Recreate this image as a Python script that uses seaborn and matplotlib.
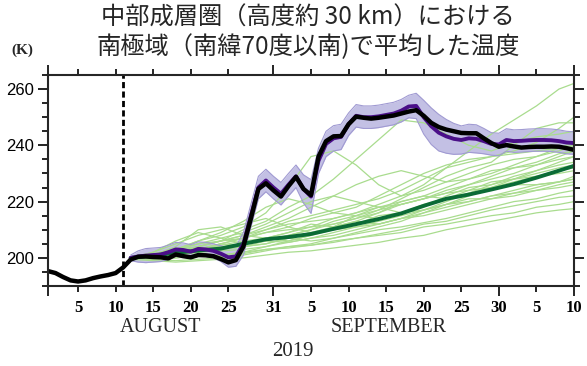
import numpy as np
import pandas as pd
import matplotlib
matplotlib.use("Agg")
import matplotlib.pyplot as plt
import matplotlib.transforms as mtransforms
import seaborn as sns

# days since 1 August 2019
obs_days = list(range(0, 71))
obs_temp = [195.3, 194.6, 193.2, 192.0, 191.6, 192.0, 192.8, 193.4, 193.9, 194.6,
            196.6, 199.4, 200.4, 200.5, 200.3, 200.2, 199.8, 201.2, 200.6, 200.2,
            201.0, 200.9, 200.6, 199.6, 198.4, 199.2, 204.0, 214.0, 224.5, 226.5,
            224.0, 221.8, 225.5, 228.8, 224.5, 222.3, 236.0, 241.5, 243.2, 243.3,
            247.5, 250.2, 249.8, 249.5, 249.8, 250.2, 250.6, 251.3, 252.0, 252.5,
            250.5, 248.0, 246.5, 245.6, 245.0, 244.4, 244.3, 244.3, 242.5, 240.8,
            239.5, 240.1, 239.6, 239.2, 239.4, 239.5, 239.5, 239.6, 239.5, 239.0,
            238.4]

purple_days = list(range(11, 71))
purple_mean = [200.0, 200.5, 200.8, 201.0, 201.2, 202.0, 203.0, 202.8, 202.2, 203.2,
               203.0, 202.5, 201.5, 200.2, 200.5, 205.0, 215.0, 225.0, 227.5, 225.0,
               222.8, 226.0, 229.0, 224.5, 221.8, 234.5, 240.5, 242.5, 243.0, 247.5,
               250.5, 250.0, 250.0, 250.3, 250.8, 251.3, 252.3, 253.8, 254.0, 250.0,
               246.8, 244.5, 243.2, 242.3, 241.9, 242.5, 242.3, 241.5, 240.5, 240.3,
               241.9, 241.5, 241.6, 241.8, 241.9, 241.9, 241.8, 241.5, 241.0, 240.8]
purple_spread = [1.0, 2.0, 2.5, 2.5, 2.5, 2.5, 2.5, 2.5, 2.5, 2.5,
                 2.5, 2.5, 2.8, 3.5, 3.5, 4.0, 4.0, 4.0, 4.0, 4.0,
                 4.0, 4.0, 4.0, 5.0, 6.0, 4.5, 4.5, 4.5, 4.5, 4.0,
                 4.0, 4.0, 4.0, 4.0, 4.0, 4.0, 4.0, 4.0, 4.5, 6.0,
                 6.5, 6.5, 6.0, 5.5, 5.0, 5.0, 5.0, 4.5, 4.0, 4.0,
                 4.0, 4.0, 4.0, 4.0, 4.0, 4.0, 4.0, 4.0, 4.0, 4.0]

green_days = [11, 14, 17, 20, 23, 26, 29, 32, 35, 38, 41, 44, 47, 50, 53, 56, 59, 62, 65, 68, 70]
green_mean = [200.0, 200.8, 201.8, 202.6, 203.3, 205.0, 206.6, 207.4, 208.5, 210.3, 212.0,
              213.8, 215.8, 218.5, 221.0, 222.5, 224.3, 226.2, 228.5, 231.0, 232.7]

green_01 = [199.5, 199, 198.5, 199, 199.5, 200, 201, 202, 202.5, 203.5, 204.5, 205.5, 207, 208, 210, 211.5, 213, 214.5, 216, 217, 217.5]
green_02 = [200, 199.5, 200, 201, 200.5, 201.5, 203, 204, 204.5, 206, 207, 208.5, 210, 212, 213, 215, 217, 218.5, 220, 221.5, 222]
green_03 = [200, 201, 202, 203.5, 204, 205, 206, 205.5, 207, 209, 211, 212, 214, 216, 219, 220, 222, 224, 226, 227, 229]
green_04 = [200, 202, 205, 208, 210, 212, 214, 211, 209, 210, 212, 215, 216, 218, 222, 225, 226, 228, 230, 232, 233]
green_05 = [200, 201, 203, 206, 208, 211, 216, 225, 236, 238, 233, 226, 222, 224, 227, 230, 233, 235, 236, 238, 240]
green_06 = [200, 201, 202, 204, 206, 210, 213, 218, 222, 228, 235, 242, 249, 248, 244, 240, 238, 241, 243, 244, 245]
green_07 = [200, 200.5, 201, 202, 203, 205, 207, 209, 211, 214, 216, 219, 222, 226, 232, 238, 244, 249, 254, 260, 262]
green_08 = [200, 201.5, 203, 204, 206, 208, 210, 213, 215, 217, 219, 221, 224, 228, 232, 234, 236, 238, 241, 246, 250]
green_09 = [200, 200, 201, 202, 202.5, 203, 204, 205.5, 207, 208, 210, 212, 214, 215, 217, 219, 221, 223, 225, 227, 228]
green_10 = [200, 201, 202.5, 203, 205, 207, 209, 211, 214, 216, 218, 222, 226, 230, 233, 235, 236, 237, 238, 239, 240]
green_11 = [200, 200.5, 201.5, 202.5, 203, 204, 206, 208, 210, 212, 214, 216, 219, 221, 223, 224, 225, 228, 231, 234, 236]
green_12 = [200, 199.5, 199, 199.5, 200, 201, 202.5, 204, 205, 207, 208.5, 210, 211, 212.5, 214, 216, 218, 220, 221, 223, 224]
green_13 = [200, 201, 203, 205, 207, 209, 212, 216, 220, 222, 220, 218, 219, 221, 224, 226, 228, 230, 233, 236, 238]
green_14 = [200, 200.5, 201, 203, 204.5, 206, 207, 206, 208, 211, 215, 218, 216, 217, 219, 222, 225, 227, 229, 230, 231]
green_15 = [200, 202, 206, 209, 207, 205, 206, 208, 210, 213, 215, 214, 216, 219, 221, 223, 226, 229, 231, 233, 234]
green_16 = [200, 201, 204, 210, 211, 208, 207, 209, 212, 211, 213, 216, 220, 222, 221, 224, 227, 228, 229, 231, 232]
green_17 = [200, 200, 200.5, 201, 201, 202, 203, 203.5, 204.5, 205.5, 207, 208, 209, 211, 212, 213.5, 215, 216, 218, 219, 220]
green_18 = [200, 201, 202, 204, 206, 208, 211, 214, 218, 222, 226, 229, 231, 229, 227, 228, 230, 233, 236, 239, 241]
green_19 = [200, 200.5, 202, 203, 205, 204, 205, 207, 209, 211, 213, 212, 214, 217, 220, 223, 225, 226, 226, 227, 228]
green_20 = [200, 201, 203, 205, 206, 207, 209, 210, 211, 212, 214, 217, 221, 225, 229, 232, 234, 240, 246, 248, 248]
green_21 = [200, 200, 201, 202, 203, 204, 205, 207, 206, 207, 209, 211, 213, 216, 218, 220, 222, 223, 224, 226, 227]
green_22 = [200, 201, 202, 203, 205, 207, 210, 212, 213, 214, 216, 218, 220, 222, 225, 228, 231, 232, 233, 235, 236]
green_23 = [200, 199.5, 200, 200.5, 201, 202, 204, 206, 208, 210, 211, 213, 215, 217, 219, 221, 221, 222, 224, 225, 226]
green_24 = [200, 201, 203, 206, 209, 213, 218, 221, 219, 216, 215, 217, 219, 221, 223, 226, 229, 232, 234, 237, 238]
green_members = [green_01, green_02, green_03, green_04, green_05, green_06, green_07, green_08,
                 green_09, green_10, green_11, green_12, green_13, green_14, green_15, green_16,
                 green_17, green_18, green_19, green_20, green_21, green_22, green_23, green_24]

month_labels = ["AUGUST", "SEPTEMBER"]
month_pos = [15.0, 45.3]
year_label = "2019"
tick_days = [0, 4, 9, 14, 19, 24, 30, 35, 40, 45, 50, 55, 60, 65, 70]
tick_labels = ["", "5", "10", "15", "20", "25", "31", "5", "10", "15", "20", "25", "30", "5", "10"]
long_ticks = [0, 30, 60, 70]
forecast_start = 10

sns.set_style("ticks")
plt.rcParams["font.family"] = ["Noto Sans CJK JP", "DejaVu Sans"]

fig = plt.figure(figsize=(5.87, 3.66), dpi=100)
ax = fig.add_axes([48 / 587, 1 - 286 / 366, 526 / 587, 211 / 366])

lavender = "#a39ed6"
light_green = "#a9dc8e"

# green ensemble members
green_df = pd.DataFrame([
    {"day": d, "temp": t, "member": i}
    for i, mem in enumerate(green_members)
    for d, t in zip(green_days, mem)
])
sns.lineplot(data=green_df, x="day", y="temp", units="member", estimator=None,
             color=light_green, lw=0.9, ax=ax, legend=False)

# purple ensemble envelope
pm = np.array(purple_mean)
ps = np.array(purple_spread)
ax.fill_between(purple_days, pm - ps, pm + ps, color=lavender, alpha=0.65, lw=0)
ax.plot(purple_days, pm - ps, color="#a09ad2", lw=0.8)
ax.plot(purple_days, pm + ps, color="#a09ad2", lw=0.8)

sns.lineplot(x=green_days, y=green_mean, color="#0b6b36", lw=2.8, ax=ax)
sns.lineplot(x=purple_days, y=purple_mean, color="#4a0f88", lw=2.8, ax=ax)
sns.lineplot(x=obs_days, y=obs_temp, color="black", lw=3.2, ax=ax)

ax.axvline(forecast_start, color="black", lw=2.0, ls=(0, (2.2, 1.2)))

ax.set_xlim(0, 70)
ax.set_ylim(190, 265)
ax.set_xlabel("")
ax.set_ylabel("")

ax.set_xticks(tick_days)
ax.set_xticklabels(tick_labels, family="Liberation Serif", fontsize=12, weight="bold")
ax.set_yticks([200, 220, 240, 260])
ax.set_yticklabels(["200", "220", "240", "260"], family="Liberation Sans", fontsize=12)
ax.set_yticks(np.arange(190, 266, 5), minor=True)

for s in ax.spines.values():
    s.set_visible(True)
    s.set_linewidth(1.5)
ax.tick_params(which="both", direction="out", top=True, right=True, width=1.2, colors="black")
ax.tick_params(axis="y", which="major", length=7, pad=3)
ax.tick_params(axis="y", which="minor", length=4)
ax.tick_params(axis="x", which="major", length=4, pad=6)
for d, tk in zip(tick_days, ax.xaxis.get_major_ticks()):
    if d in long_ticks:
        tk.tick1line.set_markersize(7)
        tk.tick2line.set_markersize(7)

trans = mtransforms.blended_transform_factory(ax.transData, fig.transFigure)
for lab, pos in zip(month_labels, month_pos):
    ax.text(pos, 1 - 328 / 366, lab, transform=trans, ha="center", va="center",
            family="Liberation Serif", fontsize=14.5)
ax.text(32.6, 1 - 352 / 366, year_label, transform=trans, ha="center", va="center",
        family="Liberation Serif", fontsize=15)

fig.text(308 / 587, 1 - 18 / 366, "中部成層圏（高度約 30 km）における", ha="center", va="center",
         fontsize=17.5)
fig.text(308 / 587, 1 - 47 / 366, "南極域（南緯70度以南)で平均した温度", ha="center", va="center",
         fontsize=17.5)
fig.text(22 / 587, 1 - 50 / 366, "(K)", ha="center", va="center",
         family="Liberation Serif", fontsize=11, weight="bold")

fig.savefig("out.png", dpi=100)
